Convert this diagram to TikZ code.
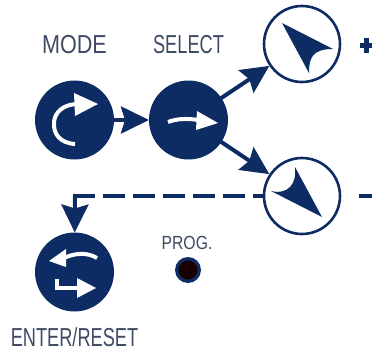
\documentclass[tikz,border=0pt]{standalone}
\usepackage{fontspec}
\setmainfont{Liberation Sans}
\newfontfamily\keyfont[FakeStretch=0.70]{Liberation Sans}
\newfontfamily\widekeyfont[FakeStretch=0.83]{Liberation Sans}
\usetikzlibrary{arrows.meta, positioning}

\definecolor{navy}{HTML}{0E2C64}
\definecolor{labelgray}{HTML}{3F4A63}

\begin{document}
\begin{tikzpicture}[
        x=1pt, y=1pt,
        node distance=114pt,
        keydark/.style={circle, fill=navy, minimum size=79pt, inner sep=0pt, outer sep=0pt},
        keylight/.style={circle, draw=navy, line width=2.6pt, fill=white, minimum size=76pt, inner sep=0pt},
        keylabel/.style={text=labelgray, font=\keyfont\fontsize{26}{26}\selectfont, inner sep=0pt},
        arrow/.style={draw=navy, line width=4pt, -{Stealth[length=28pt, width=27pt, inset=4pt]}},
        dashlink/.style={draw=navy, line width=4pt, dash pattern=on 22pt off 8pt, dash phase=12.5pt},
        glyphline/.style={draw=white, line width=4pt},
        glyphhead/.style={fill=white}
    ]
        \useasboundingbox (0,0) rectangle (372,-351);

        \node[keydark] (mode) at (74.5,-120) {};
        \node[keydark, right of=mode] (select) {};
        \node[keylight, right of=select, xshift=-0.5pt, yshift=76pt] (plus) {};
        \node[keylight, right of=select, xshift=-0.5pt, yshift=-76pt] (minus) {};
        \node[keydark, below of=mode, yshift=-38pt] (enter) {};
        \node[circle, fill=navy, minimum size=26pt, inner sep=0pt] (prog) at (188,-270) {};
        \fill[black!90!red] (prog.center) circle (9.5pt);

        \node[keylabel, font=\widekeyfont\fontsize{26}{26}\selectfont, above of=mode, yshift=-39pt] (modelabel) {MODE};
        \node[keylabel, above of=select, yshift=-39pt] (selectlabel) {SELECT};
        \node[keylabel, below of=enter, yshift=49pt] (enterlabel) {ENTER/RESET};
        \node[keylabel, font=\widekeyfont\fontsize{19}{19}\selectfont] (proglabel) at (187,-243) {PROG.};

        \coordinate (turn) at (75,-196);
        \coordinate (minusout) at (372,-196);
        \coordinate (plusleft) at (360,-45);
        \coordinate (plusright) at (372,-45);
        \coordinate (plustop) at (366.5,-37.5);
        \coordinate (plusbottom) at (366.5,-52.5);

        \draw[arrow] (mode) -- (select);
        \draw[arrow, shorten <=-2pt] (select) -- (plus);
        \draw[arrow, shorten <=-2pt] (select) -- (minus);
        \draw[dashlink] (minus) -- (turn);
        \draw[arrow, shorten <=-2pt] (turn) -- (enter);
        \draw[draw=navy, line width=4pt, dash pattern=on 0pt off 18pt on 30pt] (minus.east) -- (minusout);
        \draw[draw=navy, line width=5pt] (plusleft) -- (plusright);
        \draw[draw=navy, line width=5pt] (plustop) -- (plusbottom);

        % mode
        \draw[glyphline] (75,-144) .. controls (60,-143) and (53,-134) .. (54,-122) .. controls (55,-112) and (63,-105) .. (76,-104);
        \fill[glyphhead] (74,-93) -- (98,-104) -- (75,-116) -- cycle;

        % select
        \draw[glyphline] (168,-122) .. controls (176,-119) and (186,-118) .. (198,-120);
        \fill[glyphhead] (197,-111) -- (218,-123) -- (196,-130) -- cycle;

        % enter
        \fill[glyphhead] (49,-261) -- (66,-249) -- (66,-267) -- cycle;
        \draw[glyphline] (64,-258) .. controls (75,-253) and (87,-252) .. (97,-258);
        \draw[glyphline] (57,-279) -- (57,-288) -- (78,-288);
        \fill[glyphhead] (77,-278) -- (96,-288) -- (77,-298) -- cycle;

        % pointers
        \fill[navy] (282,-23) -- (333,-49) .. controls (312,-49) and (309,-58) .. (309,-73) -- cycle;
        \fill[navy] (322,-217) -- (271,-191) .. controls (288,-195) and (297,-184) .. (295,-167) -- cycle;
    \end{tikzpicture}
\end{document}
